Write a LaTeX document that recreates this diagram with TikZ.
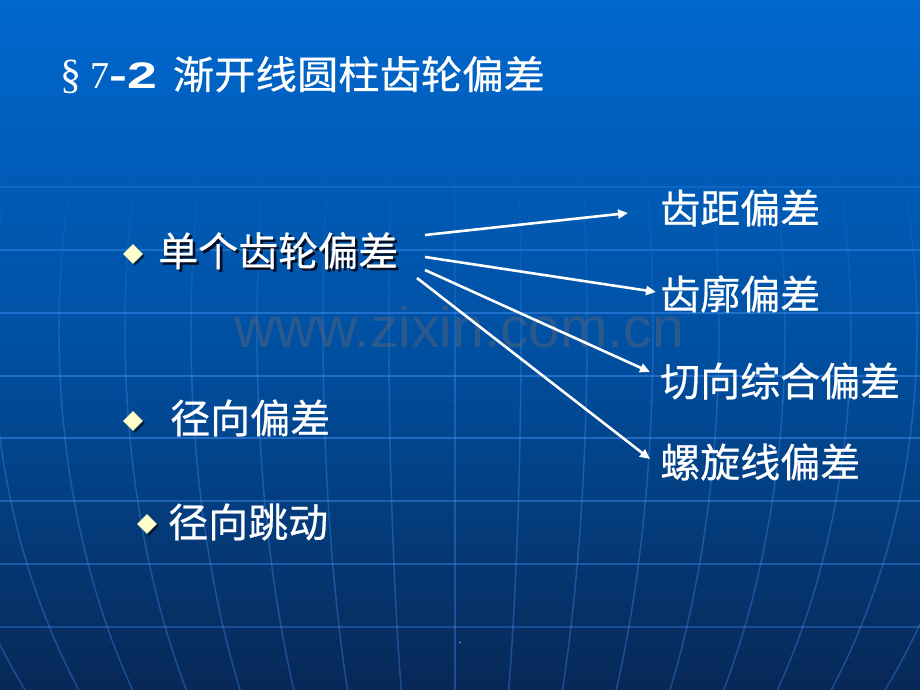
\documentclass[tikz,border=0pt]{standalone}
\usepackage{fontspec}
\usepackage{graphicx}
\usetikzlibrary{arrows.meta,shapes.geometric}
\newfontfamily\cjk[FakeBold=0.5]{Noto Sans CJK SC}
\newfontfamily\lserif{Liberation Serif}
\newfontfamily\lsans{Liberation Sans}
\definecolor{bgtop}{RGB}{0,104,206}
\definecolor{bgmid}{RGB}{0,80,162}
\definecolor{bgbot}{RGB}{8,40,86}
\definecolor{gridc}{RGB}{60,140,240}
\definecolor{bul}{RGB}{255,255,204}
\definecolor{wmc}{RGB}{95,100,115}
\definecolor{shadowc}{RGB}{5,15,35}
\newcommand\gridmeridians{%
  \draw[gridline] (455,0) -- (455,690);
  \foreach \k in {1,...,8} {\draw[gridline] (455,330) ellipse [x radius={66*\k}, y radius=620];}%
}
\newcommand\shadowed[1]{\makebox[0pt][l]{\hspace{2.5pt}\raisebox{-2.5pt}{\textcolor{shadowc}{#1}}}#1}
\begin{document}
\begin{tikzpicture}[x=1pt,y=-1pt,
  lbl/.style={text=white, anchor=west, inner sep=0pt, font=\cjk\fontsize{40}{44}\selectfont},
  bulletmark/.style={diamond, fill=bul, inner sep=0pt, minimum size=20pt},
  bulletshadow/.style={diamond, fill=black, opacity=.6, inner sep=0pt, minimum size=20pt},
  conn/.style={white, line width=2.6pt, -{Triangle[length=10pt,width=9pt]}},
  gridline/.style={gridc, line width=1.5pt}]
\useasboundingbox (0,0) rectangle (920,690);
\shade[top color=bgtop, bottom color=bgbot, middle color=bgmid] (0,0) rectangle (920,690);
% faint globe grid
\foreach \j in {0,...,11} {
  \pgfmathsetmacro\op{0.38*(\j+1)/12}
  \begin{scope}
    \clip (0,{160+20*\j}) rectangle (920,{180+20*\j});
    \begin{scope}[opacity=\op] \gridmeridians \end{scope}
  \end{scope}
}
\begin{scope}
  \clip (0,400) rectangle (920,690);
  \begin{scope}[opacity=.38] \gridmeridians \end{scope}
\end{scope}
\foreach \yy/\op in {187/.25, 250/.45, 313/.55, 376/.55, 438/.55, 501/.45, 564/.4, 627/.35}
  \draw[gridline, opacity=\op] (0,\yy) -- (920,\yy);
% watermark
\node[anchor=base, inner sep=0pt, text=wmc, opacity=.45] (wm) at (459,347)
  {\lsans\fontsize{57}{60}\selectfont www.zixin.com.cn};
% title
\node[anchor=base west, inner sep=0pt, text=white] (title) at (60,89)
  {{\lserif\fontsize{42}{48}\selectfont §\hspace{9pt}\fontsize{38}{40}\selectfont 7}{\lsans\bfseries\fontsize{37}{40}\selectfont\scalebox{1.45}[1]{-2}}\hspace{16pt}{\cjk\fontsize{39}{42}\selectfont\scalebox{1.06}[1]{渐开线圆柱齿轮偏差}}};
% bullets
\node[bulletshadow] (b1s) at (135,256) {};
\node[bulletmark] (b1) at (133,254) {};
\node[bulletshadow] (b2s) at (135,423) {};
\node[bulletmark] (b2) at (133,421) {};
\node[bulletshadow] (b3s) at (149,526) {};
\node[bulletmark] (b3) at (147,524) {};
% left items
\node[lbl] (src) at (158,252) {\shadowed{单个齿轮偏差}};
\node[lbl] (radial) at (170,418) {径向偏差};
\node[lbl] (runout) at (168,522) {径向跳动};
% right items
\node[lbl] (pitch) at (660,208) {齿距偏差};
\node[lbl] (profile) at (660,294) {齿廓偏差};
\node[lbl] (tangent) at (660,381) {切向综合偏差};
\node[lbl] (helix) at (660,462) {螺旋线偏差};
% connectors
\coordinate (a1s) at (425,235); \coordinate (a1e) at (628,213);
\coordinate (a2s) at (425,257); \coordinate (a2e) at (656,292);
\coordinate (a3s) at (425,270); \coordinate (a3e) at (650,372);
\coordinate (a4s) at (417,278); \coordinate (a4e) at (650,459);
\draw[conn] (a1s) -- (a1e);
\draw[conn] (a2s) -- (a2e);
\draw[conn] (a3s) -- (a3e);
\draw[conn] (a4s) -- (a4e);
% page dot
\node[inner sep=0pt, text=white!85!gray, font=\lsans\fontsize{10}{12}\selectfont] (dot) at (460,643) {.};
\end{tikzpicture}
\end{document}
